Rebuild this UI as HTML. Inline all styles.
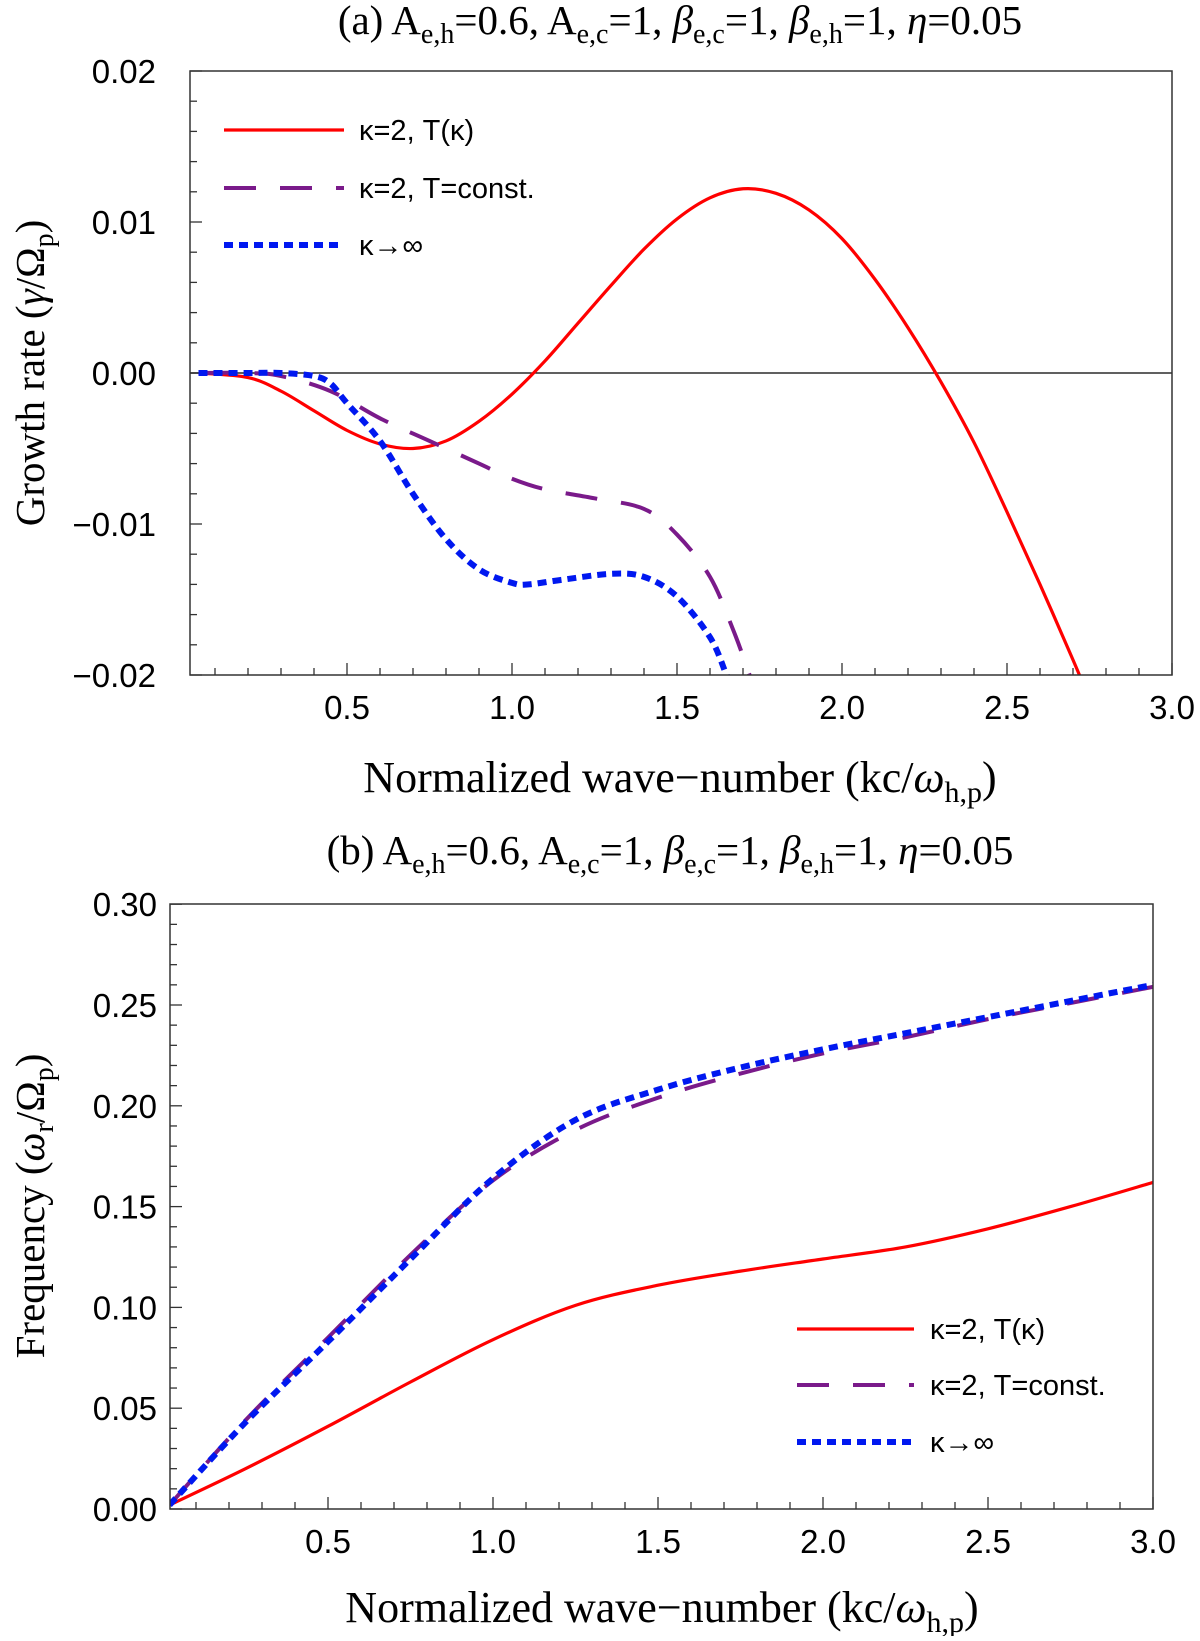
<!DOCTYPE html>
<html><head><meta charset="utf-8"><style>
html,body{margin:0;padding:0;background:#fff}
#fig text{font-family:"Liberation Sans",sans-serif}
#txt text{font-family:"Liberation Serif",serif}
</style></head><body>
<svg id="fig" width="1200" height="1636" viewBox="0 0 1200 1636" xmlns="http://www.w3.org/2000/svg"></svg>
<script>
// ---- Panel (a) data: growth rate ----
const aRedK   = [0.05,0.2,0.3,0.4,0.5,0.6,0.7,0.8,0.9,1.0,1.1,1.2,1.3,1.4,1.5,1.6,1.7,1.8,1.9,2.0,2.1,2.2,2.3,2.4,2.5,2.6,2.7,2.75];
const aRedG   = [0,-0.0003,-0.0012,-0.0025,-0.0038,-0.0047,-0.005,-0.0045,-0.0032,-0.0014,0.0008,0.0033,0.0058,0.0082,0.0102,0.0116,0.0122,0.0119,0.0108,0.0089,0.0062,0.003,-0.0006,-0.0046,-0.0092,-0.014,-0.019,-0.0216];
const aPurK   = [0.05,0.2,0.3,0.45,0.6,0.75,0.9,1.0,1.1,1.25,1.4,1.5,1.6,1.67,1.72,1.75];
const aPurG   = [0,0,-0.0002,-0.0012,-0.003,-0.0045,-0.006,-0.007,-0.0077,-0.0083,-0.009,-0.0107,-0.0135,-0.017,-0.02,-0.022];
const aBluK   = [0.05,0.2,0.3,0.4,0.45,0.5,0.6,0.7,0.8,0.9,1.0,1.05,1.15,1.3,1.4,1.5,1.6,1.65,1.68];
const aBluG   = [0,0,0,-0.0002,-0.0007,-0.002,-0.0045,-0.008,-0.011,-0.013,-0.0139,-0.014,-0.0137,-0.0133,-0.0135,-0.0148,-0.0175,-0.02,-0.0215];
const aYTicks = [-0.02,-0.01,0,0.01,0.02];
const aYLabels= ["\u22120.02","\u22120.01","0.00","0.01","0.02"];
// ---- Panel (b) data: frequency ----
const bK      = [0.02,0.25,0.5,0.75,1.0,1.25,1.5,1.75,2.0,2.25,2.5,2.75,3.0];
const bRed    = [0.002,0.02,0.041,0.063,0.084,0.101,0.111,0.118,0.124,0.130,0.139,0.150,0.162];
const bPur    = [0.002,0.044,0.085,0.126,0.163,0.188,0.204,0.216,0.226,0.234,0.243,0.251,0.259];
const bBlu    = [0.002,0.043,0.083,0.124,0.164,0.193,0.208,0.219,0.228,0.236,0.244,0.252,0.260];
const bYTicks = [0,0.05,0.10,0.15,0.20,0.25,0.30];
const bYLabels= ["0.00","0.05","0.10","0.15","0.20","0.25","0.30"];
const xTicks  = [0.5,1.0,1.5,2.0,2.5,3.0];
const xLabels = ["0.5","1.0","1.5","2.0","2.5","3.0"];

const NS="http://www.w3.org/2000/svg";
const svg=document.getElementById('fig');
function mk(tag,attrs,parent){const e=document.createElementNS(NS,tag);for(const k in attrs)e.setAttribute(k,attrs[k]);(parent||svg).appendChild(e);return e;}
function smooth(pts){let d=`M${pts[0][0]},${pts[0][1]}`;for(let i=0;i<pts.length-1;i++){const p0=pts[Math.max(0,i-1)],p1=pts[i],p2=pts[i+1],p3=pts[Math.min(pts.length-1,i+2)];
const c1=[p1[0]+(p2[0]-p0[0])/6,p1[1]+(p2[1]-p0[1])/6],c2=[p2[0]-(p3[0]-p1[0])/6,p2[1]-(p3[1]-p1[1])/6];d+=` C${c1[0]},${c1[1]} ${c2[0]},${c2[1]} ${p2[0]},${p2[1]}`;}return d;}

function panel(cfg){
  const g=mk('g',{});
  
  
  const X=v=>cfg.x0+v*cfg.xs, Y=v=>cfg.y0-(v-cfg.ymin)*cfg.ys;
  const L=cfg.left,R=cfg.right,T=cfg.top,B=cfg.bottom;
  const cid='clip'+cfg.name;
  const cp=mk('clipPath',{id:cid},g);mk('rect',{x:L,y:T,width:R-L,height:B-T},cp);
  for(let v=cfg.ymin;v<=cfg.ymax+1e-9;v+=cfg.yminor){const y=Y(v);const maj=Math.abs(v/cfg.ymajor-Math.round(v/cfg.ymajor))<1e-6;
    const t=mk('line',{x1:L,x2:L+(maj?12:7),y1:y,y2:y,stroke:'#333','stroke-width':1.3},g);}
  for(let v=0.1;v<=3.0001;v+=0.1){const x=X(v);if(x<L)continue;const maj=Math.abs(v*2-Math.round(v*2))<1e-6;
    const t=mk('line',{x1:x,x2:x,y1:B,y2:B-(maj?12:7),stroke:'#333','stroke-width':1.3},g);}
  cfg.yTicks.forEach((v,i)=>{const t=mk('text',{x:cfg.ylabX,y:Y(v)+12,'text-anchor':'end','font-size':33},g);t.textContent=cfg.yLabels[i];
    });
  xTicks.forEach((v,i)=>{const t=mk('text',{x:X(v),y:B+44,'text-anchor':'middle','font-size':33},g);t.textContent=xLabels[i];
    });
  if(cfg.zero){const z=mk('line',{x1:L,x2:R,y1:Y(0),y2:Y(0),stroke:'#000','stroke-width':1.3},g);}
  const styles={red:{stroke:'#f00','stroke-width':3.2},pur:{stroke:'#7a1a8a','stroke-width':4,'stroke-dasharray':'32 24'},blu:{stroke:'#0018f0','stroke-width':6,'stroke-dasharray':'9 6'}};
  const names={red:'series-kappa2-tkappa',pur:'series-kappa2-tconst',blu:'series-kappa-infinity'};
  ['red','pur','blu'].forEach(s=>{const ks=cfg.series[s][0],vs=cfg.series[s][1];const pts=ks.map((k,i)=>[X(k),Y(vs[i])]);
    const p=mk('path',Object.assign({d:smooth(pts),fill:'none','clip-path':`url(#${cid})`,'stroke-linecap':'butt'},styles[s]),g);
    });
  const fr=mk('rect',{x:L,y:T,width:R-L,height:B-T,fill:'none',stroke:'#333','stroke-width':1.5},g);
  
  const lg=mk('g',{},g);
  const labs=['\u03ba=2, T(\u03ba)','\u03ba=2, T=const.','\u03ba\u2192\u221e'];
  ['red','pur','blu'].forEach((s,i)=>{const y=cfg.leg.ys[i];
    const l=mk('line',Object.assign({x1:cfg.leg.x1,x2:cfg.leg.x2,y1:y,y2:y},styles[s]),lg);
    const t=mk('text',{x:cfg.leg.tx,y:y+10,'font-size':29},lg);t.textContent=labs[i];});
}

panel({name:'panel-a',x0:182,xs:330,ymin:-0.02,ymax:0.02,y0:675,ys:15100,left:190,right:1172,top:71,bottom:675,
  yminor:0.002,ymajor:0.01,yTicks:aYTicks,yLabels:aYLabels,ylabX:156,zero:true,
  series:{red:[aRedK,aRedG],pur:[aPurK,aPurG],blu:[aBluK,aBluG]},
  leg:{x1:224,x2:344,tx:359,ys:[130,188,245]}});
panel({name:'panel-b',x0:163,xs:330,ymin:0,ymax:0.3,y0:1509,ys:2016,left:170,right:1153,top:904,bottom:1509,
  yminor:0.01,ymajor:0.05,yTicks:bYTicks,yLabels:bYLabels,ylabX:157,zero:false,
  series:{red:[bK,bRed],pur:[bK,bPur],blu:[bK,bBlu]},
  leg:{x1:797,x2:914,tx:930,ys:[1329,1385,1442]}});
</script>
<svg id="txt" style="position:absolute;left:0;top:0" width="1200" height="1636" xmlns="http://www.w3.org/2000/svg">
<g fill="#000">
<text x="680" y="34" text-anchor="middle" font-size="41">(a) A<tspan font-size="28" dy="9">e,h</tspan><tspan dy="-9">=0.6, A</tspan><tspan font-size="28" dy="9">e,c</tspan><tspan dy="-9">=1, </tspan><tspan font-style="italic">β</tspan><tspan font-size="28" dy="9">e,c</tspan><tspan dy="-9">=1, </tspan><tspan font-style="italic">β</tspan><tspan font-size="28" dy="9">e,h</tspan><tspan dy="-9">=1, </tspan><tspan font-style="italic">η</tspan>=0.05</text>
<text x="680" y="792" text-anchor="middle" font-size="44">Normalized wave−number  (kc/<tspan font-style="italic">ω</tspan><tspan font-size="30" dy="10">h,p</tspan><tspan dy="-10">)</tspan></text>
<text transform="translate(44,373) rotate(-90)" text-anchor="middle" font-size="41">Growth rate (<tspan font-style="italic">γ</tspan>/Ω<tspan font-size="28" dy="9">p</tspan><tspan dy="-9">)</tspan></text>
<text x="670" y="864" text-anchor="middle" font-size="41">(b) A<tspan font-size="28" dy="9">e,h</tspan><tspan dy="-9">=0.6, A</tspan><tspan font-size="28" dy="9">e,c</tspan><tspan dy="-9">=1, </tspan><tspan font-style="italic">β</tspan><tspan font-size="28" dy="9">e,c</tspan><tspan dy="-9">=1, </tspan><tspan font-style="italic">β</tspan><tspan font-size="28" dy="9">e,h</tspan><tspan dy="-9">=1, </tspan><tspan font-style="italic">η</tspan>=0.05</text>
<text x="662" y="1622" text-anchor="middle" font-size="44">Normalized wave−number  (kc/<tspan font-style="italic">ω</tspan><tspan font-size="30" dy="10">h,p</tspan><tspan dy="-10">)</tspan></text>
<text transform="translate(44,1206) rotate(-90)" text-anchor="middle" font-size="41">Frequency (<tspan font-style="italic">ω</tspan><tspan font-size="28" dy="9">r</tspan><tspan dy="-9">/Ω</tspan><tspan font-size="28" dy="9">p</tspan><tspan dy="-9">)</tspan></text>
</g></svg>
</body></html>
